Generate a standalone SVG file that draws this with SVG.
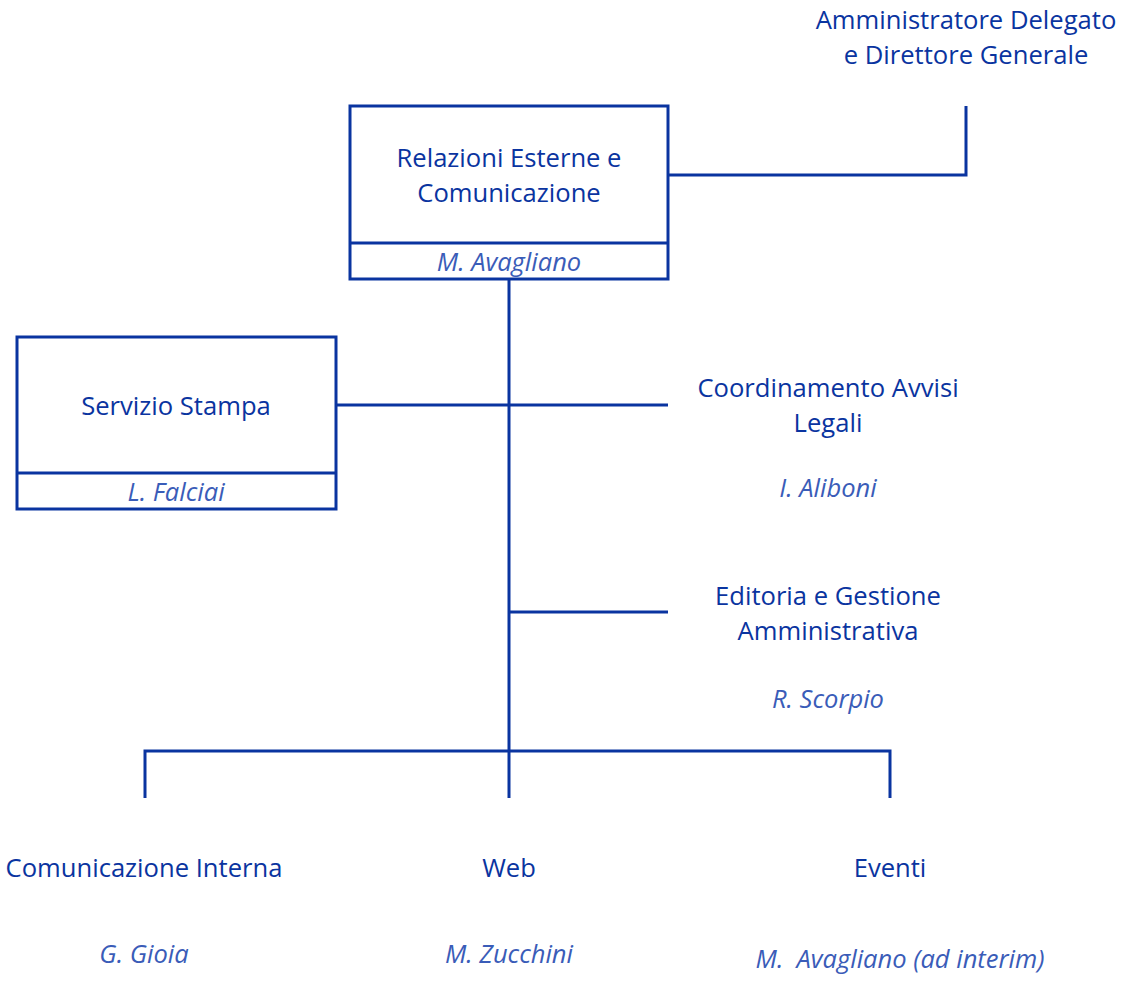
<svg xmlns="http://www.w3.org/2000/svg" width="1124" height="981" viewBox="0 0 1124 981">
<style>
.t{font-family:"Open Sans","Noto Sans","Liberation Sans",sans-serif;font-size:25.6px;fill:#0a34a0;text-anchor:middle}
.n{font-family:"Open Sans","Noto Sans","Liberation Sans",sans-serif;font-size:25.5px;font-style:italic;fill:#3a5cb8;text-anchor:middle}
.b{fill:#fff;stroke:#0a34a0;stroke-width:3}
.c{fill:none;stroke:#0a34a0;stroke-width:3}
</style>
<rect width="1124" height="981" fill="#fff"/>
<g id="connectors">
<polyline class="c" points="668,175 966,175 966,106"/>
<line class="c" x1="509" y1="279" x2="509" y2="798"/>
<line class="c" x1="336" y1="405" x2="668" y2="405"/>
<line class="c" x1="509" y1="612" x2="668" y2="612"/>
<polyline class="c" points="145,798 145,751 890,751 890,798"/>
</g>
<g id="ad">
<text class="t" x="966" y="29">Amministratore Delegato</text>
<text class="t" x="966" y="64">e Direttore Generale</text>
</g>
<g id="rec">
<rect class="b" x="350" y="106" width="318" height="173"/>
<line class="c" x1="350" y1="243" x2="668" y2="243"/>
<text class="t" x="509" y="167">Relazioni Esterne e</text>
<text class="t" x="509" y="202">Comunicazione</text>
<text class="n" x="509" y="271">M. Avagliano</text>
</g>
<g id="stampa">
<rect class="b" x="17" y="337" width="319" height="172"/>
<line class="c" x1="17" y1="473" x2="336" y2="473"/>
<text class="t" x="176" y="415">Servizio Stampa</text>
<text class="n" x="176" y="501">L. Falciai</text>
</g>
<g id="avvisi">
<text class="t" x="828" y="397">Coordinamento Avvisi</text>
<text class="t" x="828" y="432">Legali</text>
<text class="n" x="828" y="497">I. Aliboni</text>
</g>
<g id="editoria">
<text class="t" x="828" y="605">Editoria e Gestione</text>
<text class="t" x="828" y="640">Amministrativa</text>
<text class="n" x="828" y="708">R. Scorpio</text>
</g>
<g id="interna">
<text class="t" x="144" y="877">Comunicazione Interna</text>
<text class="n" x="144" y="963">G. Gioia</text>
</g>
<g id="web">
<text class="t" x="509" y="877">Web</text>
<text class="n" x="509" y="963">M. Zucchini</text>
</g>
<g id="eventi">
<text class="t" x="890" y="877">Eventi</text>
<text class="n" x="900" y="968" xml:space="preserve">M.  Avagliano (ad interim)</text>
</g>
</svg>
